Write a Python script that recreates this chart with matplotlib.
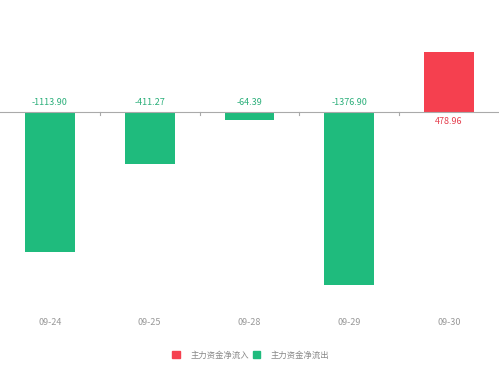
import matplotlib
matplotlib.use("Agg")
import matplotlib.pyplot as plt
from matplotlib.patches import Rectangle

plt.rcParams['font.family'] = ['Noto Sans CJK SC', 'DejaVu Sans']

dates = ["09-24", "09-25", "09-28", "09-29", "09-30"]
values = [-1113.90, -411.27, -64.39, -1376.90, 478.96]
labels = ["-1113.90", "-411.27", "-64.39", "-1376.90", "478.96"]

red = "#F5404F"
green = "#1FBB7D"

fig = plt.figure(figsize=(4.99, 3.75), dpi=100)
ax = fig.add_axes([0.0, 0.2, 1.0, 0.752])
x = list(range(len(dates)))
colors = [red if v > 0 else green for v in values]
ax.bar(x, values, width=0.5, color=colors, zorder=2)
ax.set_xlim(-0.5, len(dates) - 0.5)
ax.set_ylim(-1500, 750)
for s in ax.spines.values():
    s.set_visible(False)
ax.axhline(0, color="#aaaaaa", lw=0.8, zorder=3)
ax.set_yticks([])
ax.set_xticks(x)
ax.set_xticklabels(dates, color="#999999", fontsize=6.5)
ax.tick_params(axis='x', length=0, pad=13)
# category boundary ticks
for b in [0.5, 1.5, 2.5, 3.5]:
    ax.plot([b, b], [0, -25], color="#aaaaaa", lw=0.8, zorder=3)
label_colors = ["#E5404F" if v > 0 else "#2BAF7A" for v in values]
for xi, v, lab, c in zip(x, values, labels, label_colors):
    if v < 0:
        ax.text(xi, 40, lab, ha="center", va="bottom", color=c, fontsize=6.5)
    else:
        ax.text(xi, -40, lab, ha="center", va="top", color=c, fontsize=6.5)

handles = [Rectangle((0, 0), 1, 1, color=red), Rectangle((0, 0), 1, 1, color=green)]
fig.legend(handles, ["主力资金净流入", "主力资金净流出"], loc="center",
           bbox_to_anchor=(0.503, 1 - 355 / 375), ncol=2, frameon=False,
           fontsize=6, labelcolor="#888888", handlelength=0.9, handleheight=0.9,
           handletextpad=1.3, columnspacing=0.4)
fig.savefig("out.png", dpi=100)
